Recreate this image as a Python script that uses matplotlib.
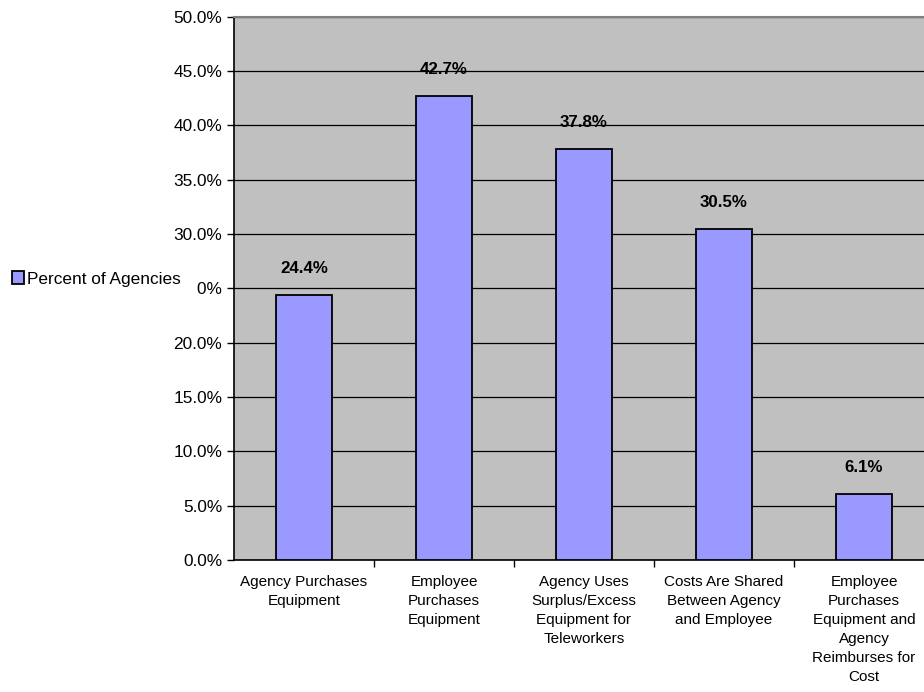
import numpy as np
import matplotlib.pyplot as plt

plt.rcParams['font.family'] = ['Liberation Sans', 'DejaVu Sans']

categories = ["Agency Purchases\nEquipment",
              "Employee\nPurchases\nEquipment",
              "Agency Uses\nSurplus/Excess\nEquipment for\nTeleworkers",
              "Costs Are Shared\nBetween Agency\nand Employee",
              "Employee\nPurchases\nEquipment and\nAgency\nReimburses for\nCost"]
values = [24.4, 42.7, 37.8, 30.5, 6.1]
yticks = np.arange(0, 55, 5)
series_name = "Percent of Agencies"

W, H = 924, 692
fig = plt.figure(figsize=(W / 100, H / 100), dpi=100)
# plot area runs a little past the right edge of the picture
ax = fig.add_axes([234 / W, (H - 560) / H, 700 / W, 543.4 / H])
ax.set_facecolor('#C0C0C0')

x = np.arange(len(values))
bars = ax.bar(x, values, width=0.4, color='#9999FF', edgecolor='black',
              linewidth=1.3, label=series_name, zorder=3)

for xi, v in zip(x, values):
    ax.annotate(f"{v:.1f}%", (xi, v), xytext=(0, 19), textcoords='offset points',
                ha='center', va='center', fontsize=12.2, fontweight='bold')

ax.set_xlim(-0.5, len(values) - 0.5)
ax.set_ylim(0, 50)
ax.set_yticks(yticks)
ax.set_yticklabels([f"{t:.1f}%" for t in yticks], fontsize=12.4)
ax.yaxis.grid(True, color='black', linewidth=0.9, zorder=1)
ax.set_axisbelow(True)

ax.set_xticks(x)
ax.set_xticklabels(categories, fontsize=11, linespacing=1.45)
ax.tick_params(axis='x', length=0, pad=11)
ax.set_xticks(np.arange(0.5, len(values) - 0.5, 1), minor=True)
ax.tick_params(axis='x', which='minor', length=5, width=1, direction='out')
ax.tick_params(axis='y', length=5, width=1, direction='out', pad=3.5)

for side in ['left', 'bottom']:
    ax.spines[side].set_color('black')
    ax.spines[side].set_linewidth(1.2)
ax.spines['top'].set_color('#808080')
ax.spines['top'].set_linewidth(1.5)
ax.spines['right'].set_visible(False)

# legend box is opaque and hides part of the 25.0% label, as in the original
leg = fig.legend(loc='center left', bbox_to_anchor=(-10 / W, 1 - 279 / H),
                 frameon=True, framealpha=1, fontsize=12.4, handlelength=0.7,
                 handleheight=0.7, handletextpad=0.15, borderpad=0.8,
                 fancybox=False)
leg.get_frame().set_facecolor('white')
leg.get_frame().set_edgecolor('white')
leg.set_zorder(10)

fig.savefig('out.png', dpi=100)
